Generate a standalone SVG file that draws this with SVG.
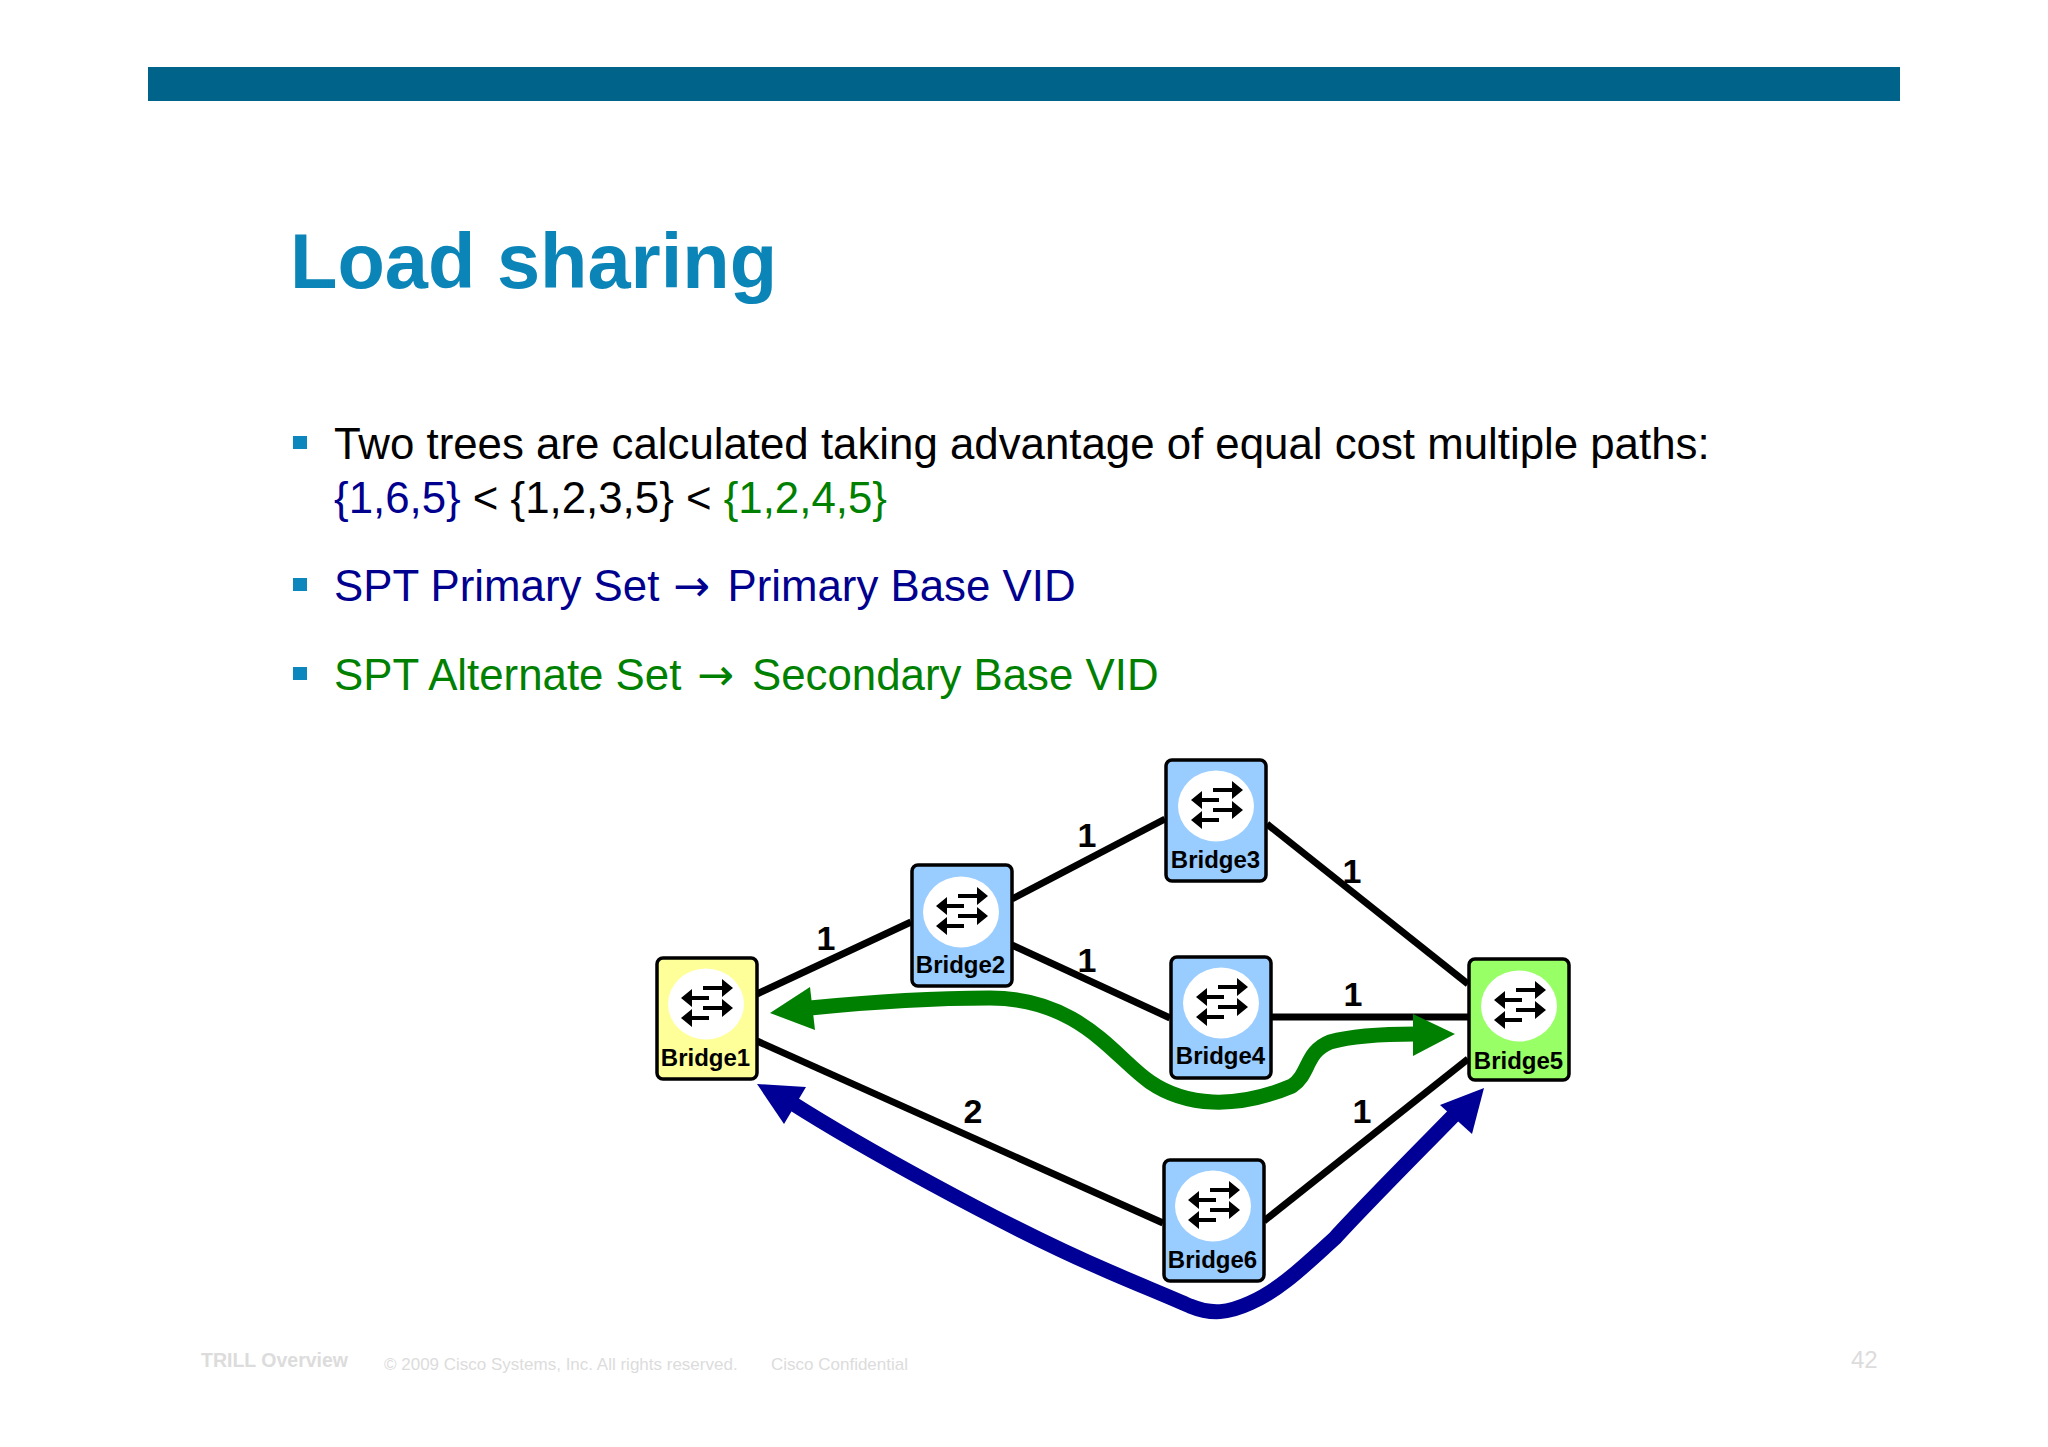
<svg xmlns="http://www.w3.org/2000/svg" width="2048" height="1447" viewBox="0 0 2048 1447">
<style>
text{font-family:"Liberation Sans",Arial,sans-serif}
.title{font-size:77.6px;font-weight:700;fill:#0b85b8}
.body{font-size:43.8px;fill:#000}
.arr{font-family:"DejaVu Sans",sans-serif;font-size:44px}
.b{fill:#00008f}.g{fill:#008000}
.bul{fill:#0b87bd}
.node{stroke:#000;stroke-width:3.5}
.lab{font-size:24px;font-weight:700;text-anchor:middle;fill:#000}
.cost{font-size:34px;font-weight:700;text-anchor:middle;fill:#000}
.link{stroke:#000;stroke-width:7;fill:none}
.flow{fill:none;stroke-width:15;stroke-linejoin:round}
.foot{fill:#dcdcdc;font-size:17px}
</style>
<defs>
<g id="sw">
<ellipse cx="0" cy="0" rx="38" ry="35.5" fill="#fff"/>
<path d="M-3-18H16V-25L27-16 16-7V-14H-3zM3-8H-14V-15L-25-6-14 3V-4H3zM-3 2H16V-5L27 4 16 13V6H-3zM3 12H-14V5L-25 14-14 23V16H3z" fill="#000"/>
</g>
</defs>
<rect width="2048" height="1447" fill="#fff"/>
<rect id="bar" x="148" y="67" width="1752" height="34" fill="#006389"/>
<text class="title" x="290" y="288">Load sharing</text>
<g id="bullets">
<rect class="bul" x="293" y="436" width="14" height="13"/>
<rect class="bul" x="293" y="578" width="14" height="13"/>
<rect class="bul" x="293" y="667" width="14" height="13"/>
</g>
<text class="body" x="334" y="459">Two trees are calculated taking advantage of equal cost multiple paths:</text>
<text class="body" x="334" y="513"><tspan class="b">{1,6,5}</tspan> &lt; {1,2,3,5} &lt; <tspan class="g">{1,2,4,5}</tspan></text>
<text class="body b" x="334" y="601">SPT Primary Set <tspan class="arr" x="673">→</tspan> <tspan x="727.500">Primary Base VID</tspan></text>
<text class="body g" x="334" y="690">SPT Alternate Set <tspan class="arr" x="697">→</tspan> <tspan x="752">Secondary Base VID</tspan></text>
<g id="connectors">
<path class="link" d="M757 994L911 922"/>
<path class="link" d="M1012 899L1165 819"/>
<path class="link" d="M1012 945L1170 1018"/>
<path class="link" d="M1267 824L1468 984"/>
<path class="link" d="M1272 1017H1468"/>
<path class="link" d="M1264 1221L1468 1059"/>
<path class="link" d="M757 1041L1163 1223"/>
<path class="flow" stroke="#008000" d="M810 1008C870 1002 940 998 990 998C1080 998 1115 1058 1150 1082C1185 1106 1235 1110 1292 1086C1310 1074 1305 1052 1330 1042C1355 1035 1385 1034 1416 1034"/>
<polygon fill="#008000" points="770,1013 810,987 815,1030"/>
<polygon fill="#008000" points="1455,1034 1413,1014 1413,1056"/>
<path class="flow" stroke="#000096" d="M792 1103C850 1140 1000 1225 1110 1272C1140 1285 1170 1297 1190 1306C1212 1315 1228 1313 1250 1303C1280 1290 1305 1265 1335 1238C1365 1205 1420 1150 1457 1112"/>
<polygon fill="#000096" points="757,1084 806,1087 784,1124"/>
<polygon fill="#000096" points="1484,1088 1440,1105 1472,1134"/>
</g>
<g id="costs">
<text class="cost" x="826" y="950">1</text>
<text class="cost" x="1087" y="847">1</text>
<text class="cost" x="1087" y="972">1</text>
<text class="cost" x="1352" y="883">1</text>
<text class="cost" x="1353" y="1006">1</text>
<text class="cost" x="1362" y="1123">1</text>
<text class="cost" x="973" y="1123">2</text>
</g>
<g id="bridge1"><rect class="node" x="657" y="958" width="100" height="121" rx="6" fill="#ffff99"/><use href="#sw" x="706" y="1004"/><text class="lab" x="705.500" y="1066">Bridge1</text></g>
<g id="bridge2"><rect class="node" x="912" y="865" width="100" height="121" rx="6" fill="#99ccff"/><use href="#sw" x="961" y="912"/><text class="lab" x="960.500" y="973">Bridge2</text></g>
<g id="bridge3"><rect class="node" x="1166" y="760" width="100" height="121" rx="6" fill="#99ccff"/><use href="#sw" x="1216" y="806"/><text class="lab" x="1215.500" y="868">Bridge3</text></g>
<g id="bridge4"><rect class="node" x="1171" y="957" width="100" height="121" rx="6" fill="#99ccff"/><use href="#sw" x="1221" y="1003"/><text class="lab" x="1220.500" y="1064">Bridge4</text></g>
<g id="bridge5"><rect class="node" x="1469" y="959" width="100" height="121" rx="6" fill="#99ff66"/><use href="#sw" x="1519" y="1006"/><text class="lab" x="1518.500" y="1069">Bridge5</text></g>
<g id="bridge6"><rect class="node" x="1164" y="1160" width="100" height="121" rx="6" fill="#99ccff"/><use href="#sw" x="1213" y="1206"/><text class="lab" x="1212.500" y="1268">Bridge6</text></g>
<g id="footer">
<text class="foot" x="201" y="1367" style="font-weight:700;font-size:19.500px">TRILL Overview</text>
<text class="foot" x="384" y="1370">© 2009 Cisco Systems, Inc. All rights reserved.</text>
<text class="foot" x="771" y="1370">Cisco Confidential</text>
<text class="foot" x="1851" y="1368" style="font-size:24px">42</text>
</g>
</svg>
